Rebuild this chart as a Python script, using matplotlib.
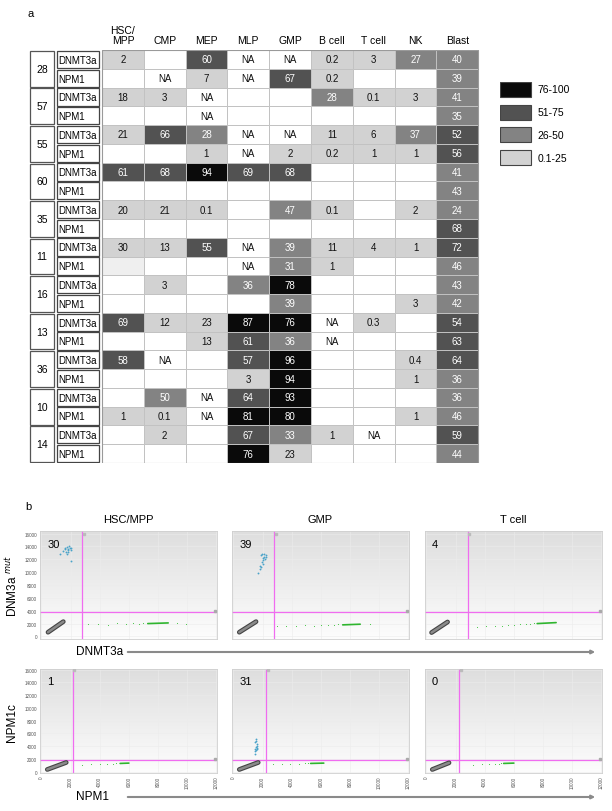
import numpy as np
import matplotlib
matplotlib.use('Agg')
import matplotlib.pyplot as plt
from matplotlib.patches import Rectangle
from matplotlib.colors import LinearSegmentedColormap

plt.rcParams['font.family'] = ['Liberation Sans', 'DejaVu Sans']

# ---------------- panel a data ----------------
cell_types = ['HSC/\nMPP', 'CMP', 'MEP', 'MLP', 'GMP', 'B cell', 'T cell', 'NK', 'Blast']
patients = ['28', '57', '55', '60', '35', '11', '16', '13', '36', '10', '14']
genes = ['DNMT3a', 'NPM1']

vaf = [
    ['2', '', '60', 'NA', 'NA', '0.2', '3', '27', '40'],
    ['', 'NA', '7', 'NA', '67', '0.2', '', '', '39'],
    ['18', '3', 'NA', '', '', '28', '0.1', '3', '41'],
    ['', '', 'NA', '', '', '', '', '', '35'],
    ['21', '66', '28', 'NA', 'NA', '11', '6', '37', '52'],
    ['', '', '1', 'NA', '2', '0.2', '1', '1', '56'],
    ['61', '68', '94', '69', '68', '', '', '', '41'],
    ['', '', '', '', '', '', '', '', '43'],
    ['20', '21', '0.1', '', '47', '0.1', '', '2', '24'],
    ['', '', '', '', '', '', '', '', '68'],
    ['30', '13', '55', 'NA', '39', '11', '4', '1', '72'],
    ['', '', '', 'NA', '31', '1', '', '', '46'],
    ['', '3', '', '36', '78', '', '', '', '43'],
    ['', '', '', '', '39', '', '', '3', '42'],
    ['69', '12', '23', '87', '76', 'NA', '0.3', '', '54'],
    ['', '', '13', '61', '36', 'NA', '', '', '63'],
    ['58', 'NA', '', '57', '96', '', '', '0.4', '64'],
    ['', '', '', '3', '94', '', '', '1', '36'],
    ['', '50', 'NA', '64', '93', '', '', '', '36'],
    ['1', '0.1', 'NA', '81', '80', '', '', '1', '46'],
    ['', '2', '', '67', '33', '1', 'NA', '', '59'],
    ['', '', '', '76', '23', '', '', '', '44'],
]
# cells whose shading in the figure differs from the plain bins
shade_fix = {(10, 0): '0.1-25', (8, 8): '26-50', (11, 0): 'faint'}

bins = ['76-100', '51-75', '26-50', '0.1-25']
bin_colors = {'76-100': '#0a0a0a', '51-75': '#525252', '26-50': '#838383',
              '0.1-25': '#d2d2d2', 'faint': '#efefef', 'none': '#ffffff'}


def bin_of(v):
    if v in ('', 'NA'):
        return 'none'
    x = float(v)
    if x > 75:
        return '76-100'
    if x > 50:
        return '51-75'
    if x > 25:
        return '26-50'
    return '0.1-25'


# ---------------- panel b data ----------------
plot_titles = ['HSC/MPP', 'GMP', 'T cell']
dnmt_counts = ['30', '39', '4']
npm_counts = ['1', '31', '0']

# gates (x threshold, y threshold)
dnmt_gate = [(2800, 3800), (2800, 3800), (2850, 3800)]
npm_gate = [(2150, 1900), (2250, 1900), (2250, 1900)]

# double negative droplets (start x, start y, end x, end y)
dnmt_neg = [(450, 650, 1500, 2300), (400, 650, 1550, 2300), (350, 600, 1450, 2250)]
npm_neg = [(400, 350, 1700, 1450), (400, 350, 1700, 1450), (400, 350, 1550, 1400)]

# wild-type droplet core (start x, start y, end x, end y)
dnmt_wt = [(7300, 2000, 8700, 2100), (7500, 1800, 8700, 1900), (7600, 2000, 8900, 2150)]
npm_wt = [(5400, 1300, 6000, 1350), (5300, 1300, 6200, 1350), (5300, 1300, 6000, 1350)]

# sparse wild-type droplets
dnmt_wt_x = [[3200, 3900, 4600, 5200, 5800, 6300, 6700, 7000, 9300, 9900],
             [3000, 3600, 4300, 4900, 5500, 6000, 6500, 6900, 7200, 9400],
             [3500, 4100, 4700, 5200, 5600, 6000, 6400, 6800, 7100, 7400]]
dnmt_wt_y = [[1900, 2000, 1800, 2100, 1950, 2050, 1900, 2150, 2100, 2000],
             [1600, 1700, 1650, 1750, 1700, 1800, 1750, 1850, 1950, 1900],
             [1500, 1600, 1700, 1650, 1800, 1850, 1900, 1950, 2000, 2150]]
npm_wt_x = [[2800, 3400, 4000, 4500, 4900, 5100],
            [2700, 3300, 3900, 4500, 4900, 5100],
            [3200, 3800, 4300, 4700, 5000, 5100]]
npm_wt_y = [[1100, 1150, 1200, 1250, 1250, 1400],
            [1150, 1200, 1200, 1250, 1300, 1400],
            [1100, 1150, 1200, 1250, 1250, 1400]]

# mutant droplets
dnmt_mut_x = [[1500, 1650, 1750, 1850, 1950, 2050, 1700, 1800, 1900, 1600, 2000, 1750, 1850, 1300, 2000],
              [1900, 2000, 2100, 2200, 2050, 2150, 1950, 2000, 1900, 1850, 1800, 1950, 2250, 2100, 1700],
              []]
dnmt_mut_y = [[13300, 13700, 13900, 13500, 13800, 13400, 13100, 13200, 14000, 13600, 13700, 12900, 13600, 12800, 11700],
              [12600, 12200, 12800, 12400, 11900, 12100, 11600, 11200, 10800, 11000, 10500, 12900, 12700, 12300, 9800],
              []]
npm_mut_x = [[], [1450, 1500, 1550, 1600, 1650, 1500, 1550, 1600, 1550, 1500, 1650, 1550], []]
npm_mut_y = [[], [3200, 3600, 3800, 4000, 4300, 4600, 3400, 3700, 4800, 2800, 3500, 5200], []]

# ---------------- figure ----------------
W, H = 612, 812
fig = plt.figure(figsize=(W / 100, H / 100), dpi=100)

fig.text(28 / W, 1 - 14 / H, 'a', fontsize=8, va='center')
fig.text(25 / W, 1 - 507 / H, 'b', fontsize=8, va='center')

# table
col_w = 41.8
x0_px = 102
ta = fig.add_axes([28 / W, 1 - 464 / H, (480 - 28) / W, (464 - 51) / H])
ta.set_xlim((28 - x0_px) / col_w, (480 - x0_px) / col_w)
ta.set_ylim(len(vaf), 0)
ta.axis('off')

for i, p in enumerate(patients):
    ta.add_patch(Rectangle((-1.72, 2 * i + 0.05), 0.57, 1.9, facecolor='white',
                           edgecolor='#555555', lw=0.9))
    ta.text(-1.435, 2 * i + 1, p, ha='center', va='center', fontsize=7.5)
    for g, gene in enumerate(genes):
        r = 2 * i + g
        ta.add_patch(Rectangle((-1.08, r + 0.04), 1.02, 0.92, facecolor='white',
                               edgecolor='#444444', lw=0.9))
        ta.text(-1.05, r + 0.52, gene, ha='left', va='center', fontsize=7)

for r, row in enumerate(vaf):
    for c, v in enumerate(row):
        b = shade_fix.get((r, c), bin_of(v))
        ta.add_patch(Rectangle((c, r), 1, 1, facecolor=bin_colors[b],
                               edgecolor='#c2c2c2', lw=0.7))
        if v:
            tc = 'white' if b in ('76-100', '51-75', '26-50') else '#111111'
            ta.text(c + 0.5, r + 0.5, v, ha='center', va='center', fontsize=7, color=tc)
ta.add_patch(Rectangle((0, 0), len(cell_types), len(vaf), fill=False,
                       edgecolor='#9a9a9a', lw=0.8))

for c, name in enumerate(cell_types):
    ta.text(c + 0.5, -0.25, name, ha='center', va='bottom', fontsize=7.5,
            linespacing=1.0, clip_on=False)

# legend
la = fig.add_axes([500 / W, 1 - (83 + 4 * 22.7) / H, 100 / W, 4 * 22.7 / H])
la.set_xlim(0, 3.2)
la.set_ylim(4, 0)
la.axis('off')
for k, b in enumerate(bins):
    la.add_patch(Rectangle((0, k), 1, 0.66, facecolor=bin_colors[b],
                           edgecolor='#444444', lw=0.8))
    la.text(1.2, k + 0.33, b, ha='left', va='center', fontsize=7.5)

# scatter panels
bg = LinearSegmentedColormap.from_list('bg', ['#fdfdfd', '#dedede'])
col_left = [40, 232, 425]
rows = [
    dict(top=532, bot=640, ylim=(-400, 16400), counts=dnmt_counts, gate=dnmt_gate,
         neg=dnmt_neg, wt=dnmt_wt, wx=dnmt_wt_x, wy=dnmt_wt_y, mx=dnmt_mut_x, my=dnmt_mut_y),
    dict(top=670, bot=774, ylim=(-200, 16100), counts=npm_counts, gate=npm_gate,
         neg=npm_neg, wt=npm_wt, wx=npm_wt_x, wy=npm_wt_y, mx=npm_mut_x, my=npm_mut_y),
]
xlim = (-100, 12050)

for ri, rw in enumerate(rows):
    for ci in range(3):
        ax = fig.add_axes([col_left[ci] / W, 1 - rw['bot'] / H, 177 / W,
                           (rw['bot'] - rw['top']) / H])
        ax.set_xlim(*xlim)
        ax.set_ylim(*rw['ylim'])
        ax.imshow(np.linspace(0, 1, 200).reshape(-1, 1), cmap=bg, origin='lower',
                  extent=(xlim[0], xlim[1], rw['ylim'][0], rw['ylim'][1]),
                  aspect='auto', zorder=0)
        ax.set_xticks(np.arange(0, 12001, 2000))
        ax.set_yticks(np.arange(0, 16001, 2000))
        ax.grid(color='#ececec', lw=0.4, zorder=1)
        ax.tick_params(length=0, labelsize=3.3, labelcolor='#555555', pad=2)
        if ci > 0:
            ax.set_yticklabels([])
        if ri == 0:
            ax.set_xticklabels([])
        else:
            ax.tick_params(axis='x', labelrotation=90)
        for s in ax.spines.values():
            s.set_color('#cfcfcf')
            s.set_linewidth(0.6)

        gx, gy = rw['gate'][ci]
        ax.axhline(gy, color='#f06cf0', lw=0.9, zorder=2)
        ax.axvline(gx, color='#f06cf0', lw=0.9, zorder=2)
        ax.plot([11900], [gy + 150], 's', ms=2, color='#aaaaaa', zorder=3)
        ax.plot([gx + 100], [16000], 's', ms=2, color='#bbbbbb', zorder=3)

        nx0, ny0, nx1, ny1 = rw['neg'][ci]
        ax.plot([nx0, nx1], [ny0, ny1], color='#444444', lw=3.4,
                solid_capstyle='round', zorder=3)
        ax.plot([nx0, nx1], [ny0, ny1], color='#8a8a8a', lw=1.8,
                solid_capstyle='round', zorder=4)

        wx0, wy0, wx1, wy1 = rw['wt'][ci]
        ax.plot([wx0, wx1], [wy0, wy1], color='#2fb52f', lw=1.2,
                solid_capstyle='round', zorder=3)
        ax.scatter(rw['wx'][ci], rw['wy'][ci], s=0.6, color='#3cc43c', lw=0, zorder=3)
        if rw['mx'][ci]:
            ax.scatter(rw['mx'][ci], rw['my'][ci], s=1.8, color='#4aa3c9', lw=0, zorder=3)

        ax.text(0.04, 0.93, rw['counts'][ci], transform=ax.transAxes,
                ha='left', va='top', fontsize=8)
        if ri == 0:
            ax.text(0.5, 1.11, plot_titles[ci], transform=ax.transAxes,
                    ha='center', va='center', fontsize=8)

fig.text(12 / W, 1 - 586 / H, 'DNM3a $^{mut}$', rotation=90, ha='center',
         va='center', fontsize=8.5)
fig.text(12 / W, 1 - 723 / H, 'NPM1c', rotation=90, ha='center', va='center',
         fontsize=8.5)

for label, lx, ly in [('DNMT3a', 100, 652), ('NPM1', 93, 797)]:
    fig.text(lx / W, 1 - ly / H, label, ha='center', va='center', fontsize=8.5)
    fig.add_artist(matplotlib.patches.FancyArrowPatch(
        (125 / W, 1 - (ly + 1) / H), (598 / W, 1 - (ly + 1) / H),
        transform=fig.transFigure, arrowstyle='-|>', mutation_scale=5,
        color='#8a8a8a', lw=1.5))

fig.savefig('out.png', dpi=100)
